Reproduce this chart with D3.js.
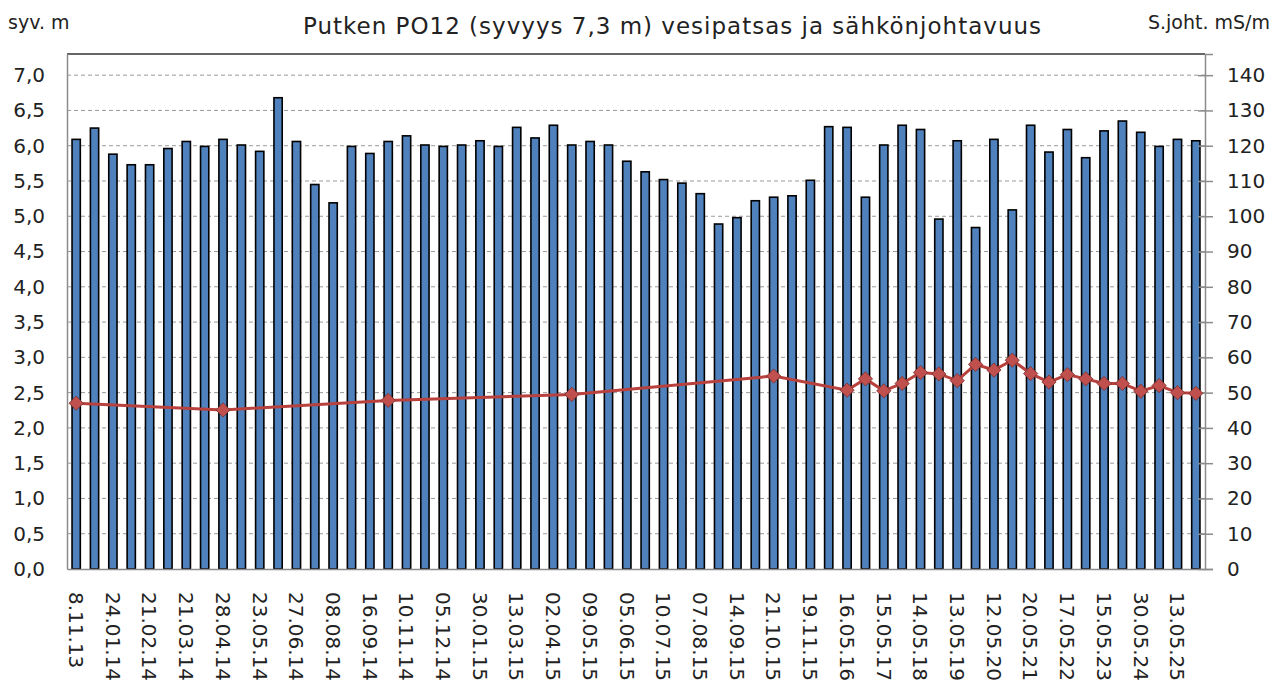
<!DOCTYPE html>
<html>
<head>
<meta charset="utf-8">
<script src="https://cdn.jsdelivr.net/npm/d3@7"></script>
<style>
  body { margin: 0; background: #fff; }
  text { font-family: "DejaVu Sans", "Open Sans", sans-serif; fill: #222; }
</style>
</head>
<body>
<svg id="chart" width="1285" height="680"></svg>
<script>
// x-axis labels, shown on every other bar
var tickLabels = ["8.11.13", "24.01.14", "21.02.14", "21.03.14", "28.04.14", "23.05.14", "27.06.14",
  "08.08.14", "16.09.14", "10.11.14", "05.12.14", "30.01.15", "13.03.15", "02.04.15", "09.05.15",
  "05.06.15", "10.07.15", "07.08.15", "14.09.15", "21.10.15", "19.11.15", "16.05.16", "15.05.17",
  "14.05.18", "13.05.19", "12.05.20", "20.05.21", "17.05.22", "15.05.23", "30.05.24", "13.05.25"];

// water column, m (bars)
var depth = [6.09, 6.25, 5.88, 5.73, 5.73, 5.96, 6.06, 5.99, 6.09, 6.01,
  5.92, 6.68, 6.06, 5.45, 5.19, 5.99, 5.89, 6.06, 6.14, 6.01,
  5.99, 6.01, 6.07, 5.99, 6.26, 6.11, 6.29, 6.01, 6.06, 6.01,
  5.78, 5.63, 5.52, 5.47, 5.32, 4.89, 4.98, 5.22, 5.27, 5.29,
  5.51, 6.27, 6.26, 5.27, 6.01, 6.29, 6.23, 4.96, 6.07, 4.84,
  6.09, 5.09, 6.29, 5.91, 6.23, 5.83, 6.21, 6.35, 6.19, 5.99,
  6.09, 6.07];

// conductivity, mS/m (line) - null where not measured
var cond = [47.0, null, null, null, null, null, null, null, 45.1, null,
  null, null, null, null, null, null, null, 47.8, null, null,
  null, null, null, null, null, null, null, 49.5, null, null,
  null, null, null, null, null, null, null, null, 54.7, null,
  null, null, 50.7, 53.9, 50.5, 52.6, 55.7, 55.3, 53.4, 58.0,
  56.4, 59.2, 55.4, 53.0, 55.1, 53.9, 52.6, 52.6, 50.4, 52.0,
  50.0, 49.8];

var leftTicks = d3.range(0, 7.01, 0.5);
var rightTicks = d3.range(0, 141, 10);

var svg = d3.select("#chart");
var L = 67, R = 1205, T = 54, B = 569;

var x = d3.scaleBand().domain(d3.range(depth.length)).range([L, R])
    .paddingInner(0.55).paddingOuter(0.275);
var yL = d3.scaleLinear().domain([0, 7.3]).range([B, T]);
var yR = d3.scaleLinear().domain([0, 146]).range([B, T]);

// gridlines
svg.append("g").selectAll("line").data(leftTicks.slice(1)).enter()
  .append("line")
    .attr("x1", L).attr("x2", R)
    .attr("y1", function(d) { return yL(d); })
    .attr("y2", function(d) { return yL(d); })
    .attr("stroke", "#9a9a9a").attr("stroke-width", 1)
    .attr("stroke-dasharray", "4,3");

// top border
svg.append("line").attr("x1", L).attr("x2", R).attr("y1", T).attr("y2", T)
  .attr("stroke", "#333").attr("stroke-width", 1.5);

// bars
svg.append("g").selectAll("rect").data(depth).enter()
  .append("rect")
    .attr("x", function(d, i) { return x(i); })
    .attr("y", function(d) { return yL(d); })
    .attr("width", x.bandwidth())
    .attr("height", function(d) { return B - yL(d); })
    .attr("fill", "#4f81bd")
    .attr("stroke", "#000").attr("stroke-width", 1.6);

// left axis
var axL = svg.append("g").attr("transform", "translate(" + L + ",0)")
  .call(d3.axisLeft(yL).tickValues(leftTicks).tickSize(0).tickPadding(22)
    .tickFormat(function(d) { return d3.format(".1f")(d).replace(".", ","); }));
axL.select(".domain").attr("stroke", "#8c8c8c").attr("stroke-width", 1.5);
axL.selectAll("text").style("font-size", "20px").attr("fill", "#222");

// right axis
var axR = svg.append("g").attr("transform", "translate(" + R + ",0)")
  .call(d3.axisRight(yR).tickValues(rightTicks).tickSize(8).tickPadding(14));
axR.select(".domain").attr("stroke", "#8c8c8c").attr("stroke-width", 1.5);
axR.selectAll(".tick line").attr("stroke", "#8c8c8c").attr("stroke-width", 1.5).attr("x1", -7);
axR.selectAll("text").style("font-size", "20px").attr("fill", "#222");

// bottom axis
var axB = svg.append("g").attr("transform", "translate(0," + B + ")")
  .call(d3.axisBottom(x).tickSize(0)
    .tickValues(d3.range(0, depth.length, 2))
    .tickFormat(function(i) { return tickLabels[i / 2]; }));
axB.select(".domain").attr("stroke", "#8c8c8c").attr("stroke-width", 1.5);
axB.selectAll("text")
  .attr("transform", "rotate(90)")
  .attr("x", 23).attr("y", 0).attr("dy", "0.36em")
  .attr("text-anchor", "start")
  .style("font-size", "20px").attr("fill", "#222");

// conductivity line
var pts = cond.map(function(v, i) { return { i: i, v: v }; })
  .filter(function(d) { return d.v !== null; });
var line = d3.line()
  .x(function(d) { return x(d.i) + x.bandwidth() / 2; })
  .y(function(d) { return yR(d.v); });
svg.append("path").datum(pts).attr("d", line)
  .attr("fill", "none").attr("stroke", "#b8403d").attr("stroke-width", 3);

svg.append("g").selectAll("path").data(pts).enter()
  .append("path")
    .attr("d", d3.symbol().type(d3.symbolDiamond2).size(130))
    .attr("transform", function(d) {
      return "translate(" + (x(d.i) + x.bandwidth() / 2) + "," + yR(d.v) + ")"; })
    .attr("fill", "#c0504d").attr("stroke", "#7a2e2c").attr("stroke-width", 0.8);

// titles
svg.append("text").attr("x", 672).attr("y", 34).attr("text-anchor", "middle")
  .attr("textLength", 738).attr("lengthAdjust", "spacing")
  .style("font-size", "23px").attr("fill", "#333")
  .text("Putken PO12 (syvyys 7,3 m)  vesipatsas ja sähkönjohtavuus");
svg.append("text").attr("x", 8).attr("y", 29)
  .style("font-size", "19px").text("syv. m");
svg.append("text").attr("x", 1270).attr("y", 29).attr("text-anchor", "end")
  .style("font-size", "19px").text("S.joht. mS/m");
</script>
</body>
</html>
